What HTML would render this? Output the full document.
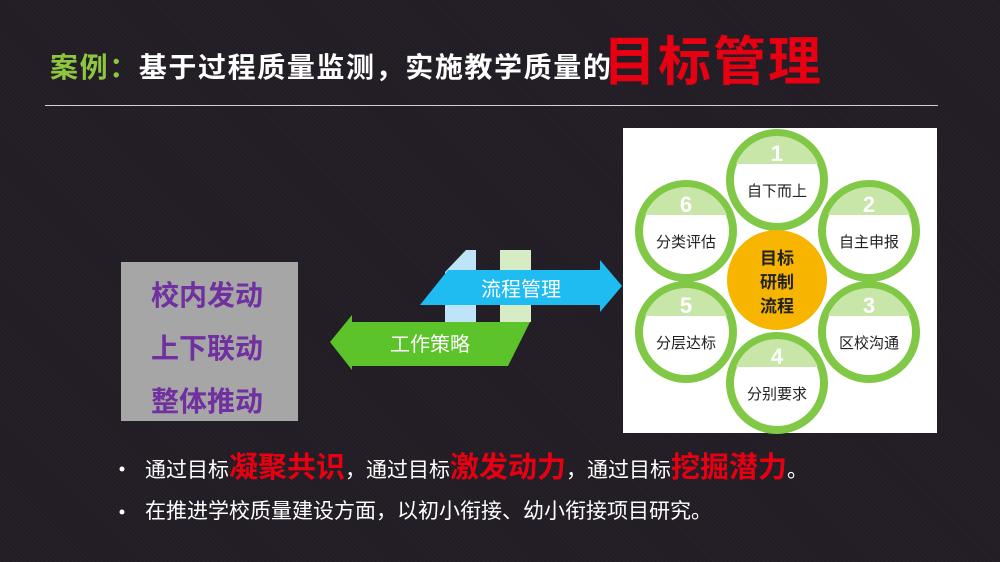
<!DOCTYPE html>
<html><head><meta charset="utf-8"><style>
html,body{margin:0;padding:0;}
body{width:1000px;height:562px;overflow:hidden;background:#221d24;
background-image:repeating-linear-gradient(45deg,rgba(255,255,255,0.025) 0 1px,transparent 1px 3px);
font-family:"Liberation Sans","Noto Sans CJK SC",sans-serif;position:relative;}
.t{position:absolute;white-space:nowrap;}
</style></head><body>
<div class="t" style="left:50px;top:48px;font-size:28px;font-weight:bold;color:#fff;line-height:40px;letter-spacing:1.6px;"><span style="color:#8dc63f">案例：</span>基于过程质量监测，实施教学质量的</div>
<div class="t" style="left:603px;top:28px;font-size:53px;font-weight:bold;color:#e60012;line-height:70px;letter-spacing:2px;">目标管理</div>
<div style="position:absolute;left:45px;top:105px;width:893px;height:1px;background:#d0d0d0;"></div>

<div style="position:absolute;left:121px;top:262px;width:177px;height:159px;background:#a6a6a6;"></div>
<div class="t" style="left:151px;top:269px;font-size:28px;font-weight:bold;color:#7030a0;line-height:53px;">校内发动<br>上下联动<br>整体推动</div>

<svg style="position:absolute;left:0;top:0" width="1000" height="562">
<polygon points="445,272 466,250 476,250 476,322 445,322" fill="#bde4f7"/>
<rect x="500" y="250" width="31" height="72" fill="#d6ecc4"/>
<polygon points="420,305 448,270 600,270 600,260 622,286 600,312 600,305" fill="#1ebcf0"/>
<polygon points="330,342 352,315 352,322 530,322 508,366 352,366 352,370" fill="#5cc32a"/>
<text x="521" y="296" font-size="20" fill="#fff" text-anchor="middle" font-family="Liberation Sans,Noto Sans CJK SC,sans-serif">流程管理</text>
<text x="430" y="351" font-size="20" fill="#fff" text-anchor="middle" font-family="Liberation Sans,Noto Sans CJK SC,sans-serif">工作策略</text>

<rect x="623" y="128" width="314" height="305" fill="#fff"/>
<defs>
<clipPath id="c"><circle cx="0" cy="0" r="44"/></clipPath>
<g id="node">
<circle cx="0" cy="0" r="47" fill="#fff" stroke="#80c846" stroke-width="8"/>
<rect x="-50" y="-50" width="100" height="34" fill="#c8e6a8" clip-path="url(#c)"/>
</g>
</defs>
<g font-family="Liberation Sans,Noto Sans CJK SC,sans-serif">
<g transform="translate(777,180)"><use href="#node"/><text y="-19" font-size="22" font-weight="bold" fill="#fff" text-anchor="middle">1</text><text y="16" font-size="15" fill="#222" text-anchor="middle">自下而上</text></g>
<g transform="translate(869,231)"><use href="#node"/><text y="-19" font-size="22" font-weight="bold" fill="#fff" text-anchor="middle">2</text><text y="16" font-size="15" fill="#222" text-anchor="middle">自主申报</text></g>
<g transform="translate(869,332)"><use href="#node"/><text y="-19" font-size="22" font-weight="bold" fill="#fff" text-anchor="middle">3</text><text y="16" font-size="15" fill="#222" text-anchor="middle">区校沟通</text></g>
<g transform="translate(777,383)"><use href="#node"/><text y="-19" font-size="22" font-weight="bold" fill="#fff" text-anchor="middle">4</text><text y="16" font-size="15" fill="#222" text-anchor="middle">分别要求</text></g>
<g transform="translate(686,332)"><use href="#node"/><text y="-19" font-size="22" font-weight="bold" fill="#fff" text-anchor="middle">5</text><text y="16" font-size="15" fill="#222" text-anchor="middle">分层达标</text></g>
<g transform="translate(686,231)"><use href="#node"/><text y="-19" font-size="22" font-weight="bold" fill="#fff" text-anchor="middle">6</text><text y="16" font-size="15" fill="#222" text-anchor="middle">分类评估</text></g>
<circle cx="777" cy="280" r="50" fill="#f7b500"/>
<text x="777" y="264" font-size="17" font-weight="bold" fill="#222" text-anchor="middle">目标</text>
<text x="777" y="288" font-size="17" font-weight="bold" fill="#222" text-anchor="middle">研制</text>
<text x="777" y="312" font-size="17" font-weight="bold" fill="#222" text-anchor="middle">流程</text>
</g>
<circle cx="122" cy="469" r="2.5" fill="#fff"/>
<circle cx="122" cy="512" r="2.5" fill="#fff"/>
</svg>

<div class="t" style="left:145px;top:451px;font-size:21px;color:#fff;line-height:34px;">通过目标<b style="color:#e60012;font-size:29px;">凝聚共识</b>，通过目标<b style="color:#e60012;font-size:29px;">激发动力</b>，通过目标<b style="color:#e60012;font-size:29px;">挖掘潜力</b>。</div>
<div class="t" style="left:145px;top:497px;font-size:21px;color:#fff;line-height:30px;">在推进学校质量建设方面，以初小衔接、幼小衔接项目研究。</div>
</body></html>
